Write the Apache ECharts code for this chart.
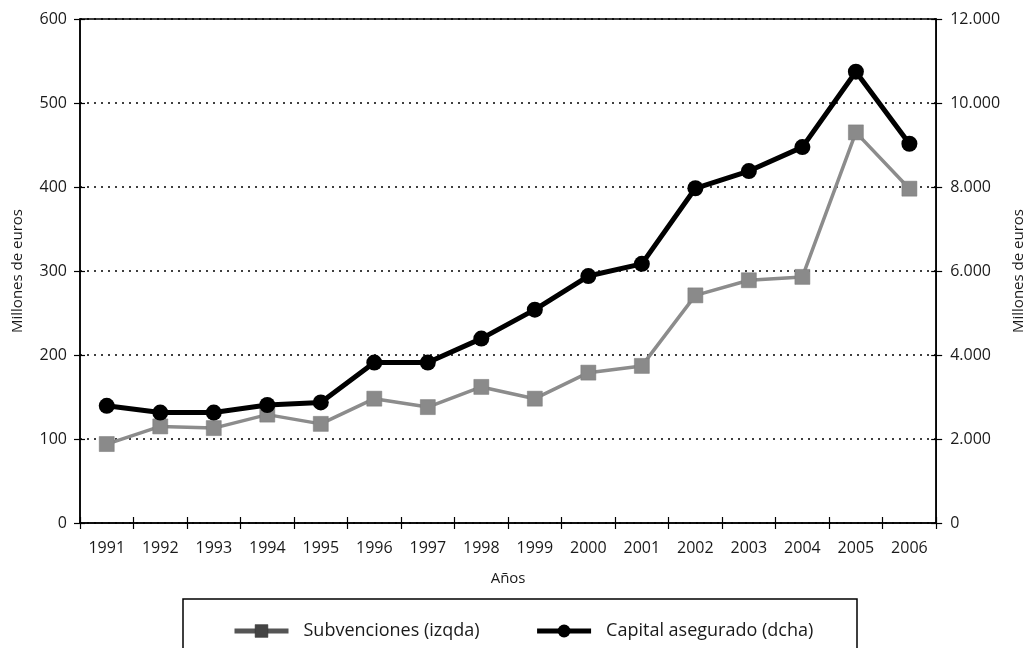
<!DOCTYPE html>
<html>
<head>
<meta charset="utf-8">
<script src="https://cdn.jsdelivr.net/npm/echarts@6/dist/echarts.min.js"></script>
<style>
html,body{margin:0;padding:0;background:#fff;}
#chart{width:1034px;height:648px;}
</style>
</head>
<body>
<div id="chart"></div>
<script>
const years = ['1991','1992','1993','1994','1995','1996','1997','1998','1999','2000','2001','2002','2003','2004','2005','2006'];
const subvenciones = [94,115,113,129,118,148,138,162,148,179,187,271,289,293,465,398];
const capital = [2790,2630,2630,2810,2870,3820,3820,4390,5080,5880,6170,7970,8380,8950,10745,9030];
const leftTicks = [0,100,200,300,400,500,600];
const rightTicks = [0,2000,4000,6000,8000,10000,12000];

const FONT = 'Open Sans';
const chart = echarts.init(document.getElementById('chart'));
function fmtThousands(v){
  return String(v).replace(/\B(?=(\d{3})+(?!\d))/g, '.');
}
const lblStyle = {color:'#1a1a1a', fontFamily:FONT, fontSize:16};
chart.setOption({
  animation:false,
  backgroundColor:'#fff',
  textStyle:{fontFamily:FONT},
  grid:{left:80, right:92, top:19, bottom:125, show:true, borderColor:'#000', borderWidth:1.5, backgroundColor:'transparent'},
  legend:{
    left:227, top:617, itemWidth:54, itemHeight:16, itemGap:55,
    textStyle:{color:'#1a1a1a', fontFamily:FONT, fontSize:18, padding:[0,0,0,10]},
    data:[
      {name:'Subvenciones (izqda)', itemStyle:{color:'#444', borderColor:'#333', borderWidth:0.5}, lineStyle:{color:'#555', width:5}},
      {name:'Capital asegurado (dcha)', itemStyle:{color:'#000'}, lineStyle:{color:'#000', width:5}}
    ]
  },
  graphic:[{type:'rect', shape:{x:183,y:599,width:674,height:70}, style:{fill:'none', stroke:'#000', lineWidth:1.5}}],
  xAxis:[{
    type:'category', data:years, boundaryGap:true,
    name:'Años', nameLocation:'middle', nameGap:48,
    nameTextStyle:{color:'#1a1a1a', fontFamily:FONT, fontSize:15},
    axisLine:{lineStyle:{color:'#000', width:1.5}},
    axisTick:{show:true, length:6, lineStyle:{color:'#000', width:1.2}},
    axisLabel:Object.assign({margin:17}, lblStyle),
    splitLine:{show:false}
  },{
    type:'category', data:years, boundaryGap:true, position:'bottom',
    axisLine:{show:false}, axisLabel:{show:false},
    axisTick:{show:true, inside:true, length:6, lineStyle:{color:'#000', width:1.2}},
    splitLine:{show:false}
  }],
  yAxis:[{
    type:'value', min:0, max:600, interval:100, position:'left',
    name:'Millones de euros', nameLocation:'middle', nameGap:55, nameRotate:90,
    nameTextStyle:{color:'#1a1a1a', fontFamily:FONT, fontSize:15},
    axisLine:{show:true, lineStyle:{color:'#000', width:1.5}},
    axisTick:{show:true, length:6, lineStyle:{color:'#000', width:1.2}},
    axisLabel:Object.assign({margin:13, formatter:v=>String(v)}, lblStyle),
    splitLine:{show:true, lineStyle:{color:'#000', type:[2,5], width:1.5}}
  },{
    type:'value', min:0, max:12000, interval:2000, position:'right',
    name:'Millones de euros', nameLocation:'middle', nameGap:73, nameRotate:90,
    nameTextStyle:{color:'#1a1a1a', fontFamily:FONT, fontSize:15},
    axisLine:{show:true, lineStyle:{color:'#000', width:1.5}},
    axisTick:{show:true, length:6, lineStyle:{color:'#000', width:1.2}},
    axisLabel:Object.assign({margin:14, formatter:fmtThousands}, lblStyle),
    splitLine:{show:false}
  },{
    type:'value', min:0, max:600, interval:100, position:'left',
    axisLine:{show:false}, axisLabel:{show:false}, splitLine:{show:false},
    axisTick:{show:true, inside:true, length:5, lineStyle:{color:'#000', width:1.2}}
  },{
    type:'value', min:0, max:12000, interval:2000, position:'right',
    axisLine:{show:false}, axisLabel:{show:false}, splitLine:{show:false},
    axisTick:{show:true, inside:true, length:5, lineStyle:{color:'#000', width:1.2}}
  }],
  series:[{
    name:'Subvenciones (izqda)', type:'line', data:subvenciones, yAxisIndex:0, xAxisIndex:0,
    symbol:'rect', symbolSize:15, showSymbol:true,
    lineStyle:{color:'#8c8c8c', width:3.5},
    itemStyle:{color:'#8a8a8a', borderColor:'#777', borderWidth:0.5},
    z:3
  },{
    name:'Capital asegurado (dcha)', type:'line', data:capital, yAxisIndex:1, xAxisIndex:0,
    symbol:'circle', symbolSize:16, showSymbol:true,
    lineStyle:{color:'#000', width:5},
    itemStyle:{color:'#000'},
    z:4
  }]
});
</script>
</body>
</html>
